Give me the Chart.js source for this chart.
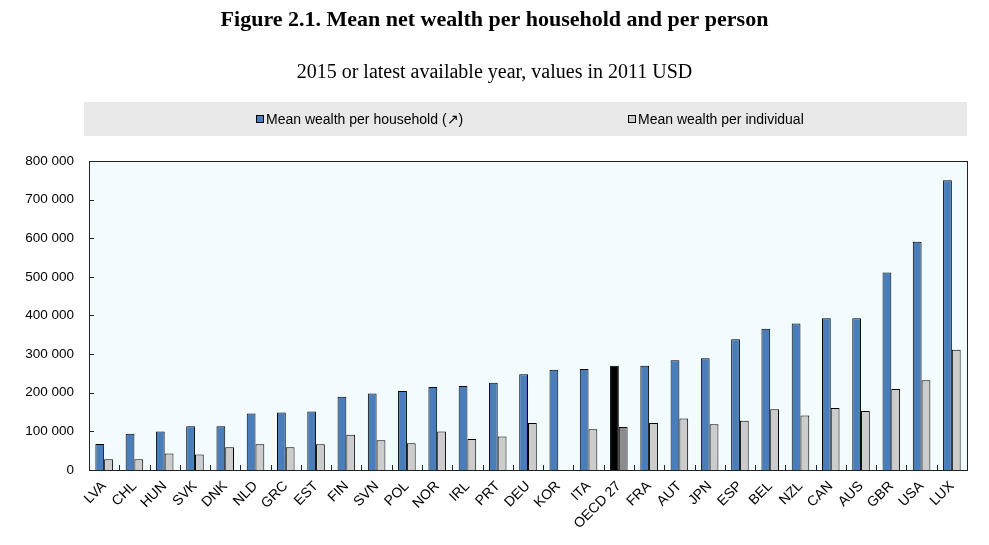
<!DOCTYPE html>
<html>
<head>
<meta charset="utf-8">
<script src="https://cdn.jsdelivr.net/npm/chart.js@4/dist/chart.umd.min.js"></script>
<style>
  html, body { margin: 0; padding: 0; background: #fff; }
  #wrap { width: 989px; height: 545px; }
</style>
</head>
<body>
<div id="wrap"><canvas id="grafico"></canvas></div>
<script>
// Datos
const paises = ["LVA", "CHL", "HUN", "SVK", "DNK", "NLD", "GRC", "EST", "FIN", "SVN",
    "POL", "NOR", "IRL", "PRT", "DEU", "KOR", "ITA", "OECD 27", "FRA", "AUT",
    "JPN", "ESP", "BEL", "NZL", "CAN", "AUS", "GBR", "USA", "LUX"];
const riquezaHogar = [67000, 93500, 99500, 113500, 113500, 146000, 149000, 151500, 189500, 198000,
    204500, 215000, 217500, 226000, 247500, 259500, 261500, 270000, 269500, 284000,
    289000, 338500, 365500, 379000, 393000, 393000, 511000, 590500, 750000];
const riquezaPersona = [28000, 28000, 42500, 40000, 59000, 66500, 59000, 66500, 91500, 77000,
    69500, 99500, 80500, 86500, 121500, null, 105500, 111000, 121500, 133000,
    118500, 127500, 157500, 141000, 160500, 152500, 209500, 232000, 311000];
const etiquetasSerie = ["Mean wealth per household (\u2197)", "Mean wealth per individual"];

const azul = "#4a7ebb";
const grisClaro = "#cccccc";

let coloresHogar = paises.map(p => p === "OECD 27" ? "#000000" : azul);
let coloresPersona = paises.map(p => p === "OECD 27" ? "#8c8c8c" : grisClaro);

function separarMiles(v) {
    return v.toString().replace(/\B(?=(\d{3})+(?!\d))/g, " ");
}

// fondo del area, banda de leyenda, marco y marcas interiores
const decoracion = {
    id: "decoracion",
    beforeDraw(chart) {
        let ctx = chart.ctx;
        let a = chart.chartArea;
        ctx.save();
        ctx.fillStyle = "#f2fbfe";
        ctx.fillRect(a.left, a.top, a.right - a.left, a.bottom - a.top);

        // leyenda
        ctx.fillStyle = "#e8e8e8";
        ctx.fillRect(a.left - 5, 102, a.right - a.left + 5, 34);
        let items = [
            { x: 256, color: azul, texto: etiquetasSerie[0] },
            { x: 628, color: grisClaro, texto: etiquetasSerie[1] }
        ];
        ctx.font = "14px 'Liberation Sans', Arial, sans-serif";
        ctx.textBaseline = "middle";
        items.forEach(it => {
            ctx.fillStyle = it.color;
            ctx.fillRect(it.x, 115, 8, 8);
            ctx.strokeStyle = "#000";
            ctx.lineWidth = 1;
            ctx.strokeRect(it.x + 0.5, 115.5, 7, 7);
            ctx.fillStyle = "#000";
            ctx.fillText(it.texto, it.x + 10, 120);
        });
        ctx.restore();
    },
    afterDatasetsDraw(chart) {
        let ctx = chart.ctx;
        let a = chart.chartArea;
        let x = chart.scales.x;
        let y = chart.scales.y;
        ctx.save();
        ctx.strokeStyle = "#222";
        ctx.lineWidth = 1;
        ctx.strokeRect(Math.round(a.left) + 0.5, Math.round(a.top) + 0.5,
            Math.round(a.right - a.left), Math.round(a.bottom - a.top));

        ctx.beginPath();
        y.ticks.forEach(t => {
            let py = Math.round(y.getPixelForValue(t.value)) + 0.5;
            ctx.moveTo(a.left, py);
            ctx.lineTo(a.left + 5, py);
        });
        let ancho = (a.right - a.left) / paises.length;
        for (let i = 1; i < paises.length; i++) {
            let px = Math.round(x.getPixelForValue(i) - ancho / 2) + 0.5;
            ctx.moveTo(px, a.bottom);
            ctx.lineTo(px, a.bottom - 5);
        }
        ctx.stroke();
        ctx.restore();
    }
};

let ctx = document.getElementById("grafico").getContext("2d");
let grafico = new Chart(ctx, {
    type: "bar",
    data: {
        labels: paises,
        datasets: [{
            label: etiquetasSerie[0],
            data: riquezaHogar,
            backgroundColor: coloresHogar,
            borderColor: "#000",
            borderWidth: 1
        }, {
            label: etiquetasSerie[1],
            data: riquezaPersona,
            backgroundColor: coloresPersona,
            borderColor: "#000",
            borderWidth: 1
        }]
    },
    options: {
        responsive: true,
        maintainAspectRatio: false,
        animation: false,
        layout: { padding: 0 },
        datasets: {
            bar: { categoryPercentage: 0.58, barPercentage: 1.0 }
        },
        plugins: {
            legend: { display: false },
            tooltip: { enabled: false },
            title: {
                display: true,
                text: "Figure 2.1. Mean net wealth per household and per person",
                color: "#000",
                font: { family: "'Liberation Serif', 'Times New Roman', serif", size: 22, weight: "bold" },
                padding: { top: 7, bottom: 0 }
            },
            subtitle: {
                display: true,
                text: "2015 or latest available year, values in 2011 USD",
                color: "#000",
                font: { family: "'Liberation Serif', 'Times New Roman', serif", size: 20 },
                padding: { top: 27.5, bottom: 76 }
            }
        },
        scales: {
            x: {
                grid: { display: false, drawTicks: false },
                border: { display: false },
                ticks: {
                    color: "#000",
                    maxRotation: 45,
                    minRotation: 45,
                    autoSkip: false,
                    padding: 8,
                    font: { family: "'Liberation Sans', Arial, sans-serif", size: 14 }
                },
                afterFit(scale) { scale.height = 75; }
            },
            y: {
                min: 0,
                max: 800000,
                grid: { display: false, drawTicks: false },
                border: { display: false },
                ticks: {
                    stepSize: 100000,
                    color: "#000",
                    padding: 15,
                    font: { family: "'Liberation Sans', Arial, sans-serif", size: 13.5 },
                    callback: v => separarMiles(v)
                },
                afterFit(scale) { scale.width = 89; }
            },
            // margen derecho vacio
            margen: {
                position: "right",
                grid: { display: false, drawTicks: false },
                border: { display: false },
                ticks: { display: false },
                afterFit(scale) { scale.width = 22; }
            }
        }
    },
    plugins: [decoracion]
});
</script>
</body>
</html>
